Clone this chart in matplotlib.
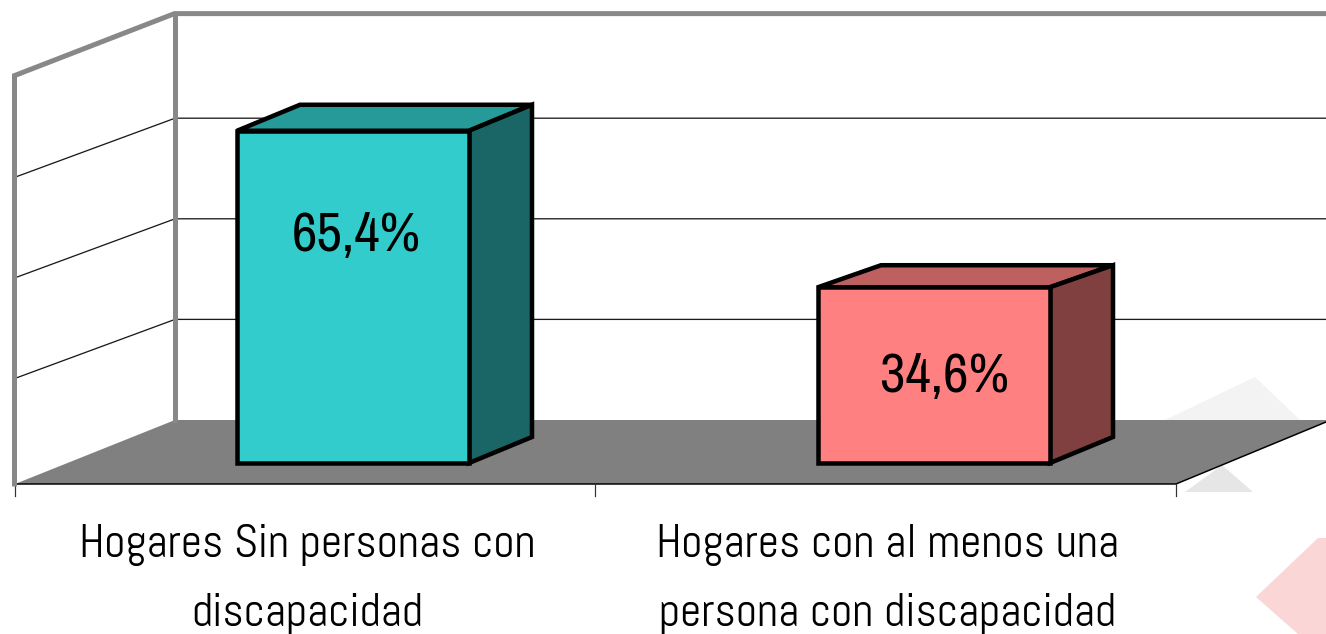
import matplotlib
matplotlib.use('Agg')
import matplotlib.pyplot as plt
from matplotlib.patches import Polygon

# 3D-look column chart, built by hand on a pixel-sized axes
categories = ['Hogares Sin personas con\ndiscapacidad', 'Hogares con al menos una\npersona con discapacidad']
values = [65.4, 34.6]
value_labels = ['65,4%', '34,6%']
grid_values = [20, 40, 60]
front_colors = ['#33CCCC', '#FF8080']
top_colors = ['#269999', '#BF6060']
side_colors = ['#1A6666', '#804040']

W, H = 1326, 634
SCALE = 5.08       # px per percent
GRID_SCALE = 5.03  # back wall gridlines sit a little tighter
FRONT_BASE = 484   # front floor edge
BACK_BASE = 420    # back wall floor edge
Y_MAX = 80
BAR_BASE = 463
BAR_LEFT = [237, 818]
BAR_W = 232
DX, DY = 63, -26
TOP_DY = [-26, -22]
LABEL_POS = [(356, 251), (945, 392)]
CAT_X = [307, 888]
TICK_X = [15, 595, 1176]

label_font = ['Abel', 'Roboto', 'DejaVu Sans']
value_font = ['Archivo Narrow', 'Roboto', 'DejaVu Sans']

fig = plt.figure(figsize=(W / 100, H / 100), dpi=100)
ax = fig.add_axes([0, 0, 1, 1])
ax.set_xlim(0, W)
ax.set_ylim(H, 0)
ax.axis('off')


def px(w):
    return w * 0.72


# faint watermark behind the chart
ax.add_patch(Polygon([(1255, 377), (1165, 420), (1300, 420)], fc='#F3F3F3', ec='none', zorder=0))
ax.add_patch(Polygon([(1185, 492), (1253, 492), (1222, 465)], fc='#E6E6E6', ec='none', zorder=0))
ax.add_patch(Polygon([(1256, 597), (1318, 538), (1326, 538), (1326, 634), (1298, 634)],
                     fc='#FBD6D6', ec='none', zorder=0))

# floor
back_top = BACK_BASE - Y_MAX * SCALE
ax.add_patch(Polygon([(15, FRONT_BASE), (175, BACK_BASE), (W, BACK_BASE), (W, 422), (1176, FRONT_BASE)],
                     fc='#808080', ec='none', zorder=1))
ax.plot([15, 1176, W], [FRONT_BASE, FRONT_BASE, 422], color='black', lw=px(1.5), zorder=2)

# gridlines on both walls
for g in grid_values:
    yb = BACK_BASE - g * GRID_SCALE
    ax.plot([15, 175, W], [yb + 59, yb, yb], color='#1A1A1A', lw=px(1.3), zorder=2)

# walls
ax.plot([14.5, 14.5, 174.5, W], [FRONT_BASE, back_top + 62, back_top, back_top],
        color='#888888', lw=px(5), solid_joinstyle='miter', zorder=3)
ax.plot([174.5, 174.5], [back_top, BACK_BASE], color='#888888', lw=px(5), zorder=3)

# ticks
for x in TICK_X:
    ax.plot([x, x], [FRONT_BASE, FRONT_BASE + 12], color='#333333', lw=px(1.2), zorder=2)

# bars
for i, v in enumerate(values):
    x0 = BAR_LEFT[i]
    x1 = x0 + BAR_W
    y1 = BAR_BASE - v * SCALE
    y0 = BAR_BASE
    ty = TOP_DY[i]
    style = dict(ec='black', lw=px(4.5), joinstyle='miter', zorder=4)
    ax.add_patch(Polygon([(x0, y1), (x0 + DX, y1 + ty), (x1 + DX, y1 + ty), (x1, y1)],
                         fc=top_colors[i], **style))
    ax.add_patch(Polygon([(x1, y1), (x1 + DX, y1 + ty), (x1 + DX, y0 + DY), (x1, y0)],
                         fc=side_colors[i], **style))
    ax.add_patch(Polygon([(x0, y1), (x1, y1), (x1, y0), (x0, y0)],
                         fc=front_colors[i], **style))
    ax.text(LABEL_POS[i][0], LABEL_POS[i][1], value_labels[i], ha='center', va='baseline',
            family=value_font, fontsize=40, color='black', zorder=5)

# category labels
for i, c in enumerate(categories):
    top, bottom = c.split('\n')
    ax.text(CAT_X[i], 557, top, ha='center', va='baseline', family=label_font, fontsize=33.5, color='black', zorder=5)
    ax.text(CAT_X[i], 626, bottom, ha='center', va='baseline', family=label_font, fontsize=33.5, color='black', zorder=5)

fig.savefig('out.png', dpi=100)
